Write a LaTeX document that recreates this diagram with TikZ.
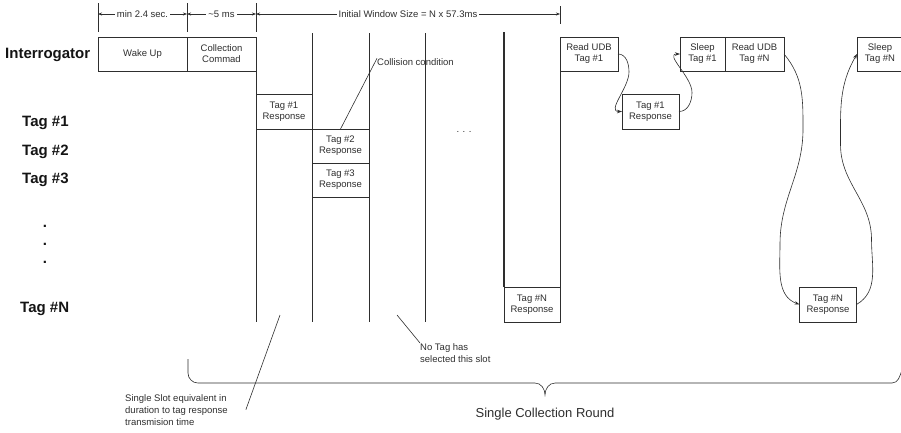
\documentclass[tikz,border=0pt]{standalone}
\usepackage{fontspec}
\setmainfont{Liberation Sans}
\usetikzlibrary{arrows.meta, positioning}
\definecolor{Ink}{HTML}{2E2E2E}
\definecolor{Label}{HTML}{141414}
\newcommand{\boxfont}{\fontsize{9.5}{11}\selectfont}
\newcommand{\lanefont}{\fontsize{15}{18}\selectfont\bfseries}
\newcommand{\notefont}{\fontsize{9.5}{12}\selectfont}
\newcommand{\roundfont}{\fontsize{13}{15}\selectfont}

\begin{document}
\begin{tikzpicture}[x=1pt, y=1pt,
    every node/.style={font=\boxfont, text=Ink},
    box/.style={draw=Ink, line width=0.6pt, inner sep=0pt, outer sep=0pt,
        align=center, minimum height=34},
    lane/.style={font=\lanefont, text=Label, anchor=west, inner sep=0pt},
    note/.style={font=\notefont, align=left, inner sep=0pt},
    slot/.style={draw=Ink, line width=0.6pt},
    dimarr/.style={{Stealth[length=4pt, width=3pt]}-{Stealth[length=4pt, width=3pt]},
        line width=0.5pt, Ink},
    arr/.style={-{Stealth[length=5pt, width=3.5pt]}, line width=0.6pt, Ink},
]
\useasboundingbox (0,0) rectangle (901,-432);

% =============================================
% TIME SCALE
% =============================================
\foreach \x in {98,187,256} \draw[Ink, line width=0.5pt] (\x,-3) -- (\x,-32);
\draw[Ink, line width=0.5pt] (560,-6) -- (560,-24);

\coordinate (t0) at (98,-14);
\coordinate (t1) at (187,-14);
\coordinate (t2) at (256,-14);
\coordinate (t3) at (560,-14);

\draw[dimarr] (t0) -- (t1) node[midway, fill=white, inner sep=2pt, font=\notefont] {min 2.4 sec.};
\draw[dimarr] (t1) -- (t2) node[midway, fill=white, inner sep=2pt, font=\notefont] {{\textasciitilde}5 ms};
\draw[dimarr] (t2) -- (t3) node[midway, fill=white, inner sep=2pt, font=\notefont]
    {Initial Window Size = N x 57.3ms};

% =============================================
% LANES
% =============================================
\node[lane] (intlab) at (5,-55) {Interrogator};
\node[lane] (tag1lab) at (22,-123) {Tag \#1};
\node[lane] (tag2lab) at (22,-152) {Tag \#2};
\node[lane] (tag3lab) at (22,-180) {Tag \#3};
\foreach \y in {226,244,262} \node[font=\lanefont, text=Label] at (45,-\y) {.};
\node[lane] (tagNlab) at (20,-309) {Tag \#N};

% =============================================
% WAKE UP + COMMAND
% =============================================
\node[box, minimum width=89] (wake) at (142.5,-54) {Wake Up};
\node[box, minimum width=69, right=0pt of wake] (cmd) {Collection\\Commad};

% =============================================
% SLOTS
% =============================================
\draw[slot] (cmd.north east) -- (256,-322);
\foreach \x in {312,369,425} \draw[slot] (\x,-33) -- (\x,-322);

\node[box, minimum width=56, minimum height=35] (r1a) at (284,-111.5) {Tag \#1\\Response};
\node[box, minimum width=57] (r2) at (340.5,-146) {Tag \#2\\Response};
\node[box, minimum width=57, below=0pt of r2] (r3) {Tag \#3\\Response};

% collision
\node[note, anchor=west] (collnote) at (377,-62) {Collision condition};
\draw[slot] (r2.north) -- (collnote.north west);

\node (moredots) at (464,-132) {. . .};

% last slot
\node[box, minimum width=56, minimum height=35] (rNa) at (532,-304.5) {Tag \#N\\Response};
\draw[Ink, line width=1.6pt] (504,-32) -- (rNa.north west);

% =============================================
% READ / SLEEP
% =============================================
\node[box, minimum width=58] (rd1) at (589,-54) {Read UDB\\Tag \#1};
\draw[slot] (rd1.south west) -- (rNa.north east);
\node[box, minimum width=57, minimum height=35] (r1b) at (650.5,-111.5) {Tag \#1\\Response};
\node[box, minimum width=45] (sl1) at (702.5,-54) {Sleep\\Tag \#1};
\node[box, minimum width=59, right=0pt of sl1] (rdN) {Read UDB\\Tag \#N};
\node[box, minimum width=57, minimum height=35] (rNb) at (828,-304.5) {Tag \#N\\Response};
\node[box, minimum width=46, anchor=west] (slN) at (857,-54) {Sleep\\Tag \#N};

\draw[arr] (rd1.east) to[out=0, in=90] ++(11,-18) to[out=-90, in=180] (r1b.west);
\draw[arr] (r1b.east) to[out=0, in=-90] ++(13,19) to[out=90, in=180] (sl1.west);

\draw[arr] (rdN.east) to[out=-50, in=90] ++(19,-75) to[out=-90, in=90] ++(-23,-115)
    to[out=-90, in=160] (rNb.west);
\draw[arr] (rNb.east) to[out=30, in=-90] ++(15,65) to[out=90, in=-90] ++(-31,95)
    to[out=90, in=-120] (slN.west);

% =============================================
% NOTES + ROUND BRACE
% =============================================
\coordinate (emptypt) at (397,-315);
\node[note, anchor=north west] (emptynote) at (420,-343) {No Tag has\\selected this slot};
\draw[slot] (emptypt) -- (emptynote.north west);

\coordinate (slotpt) at (280,-315);
\node[note, anchor=north west] (slotnote) at (125,-394)
    {Single Slot equivalent in\\duration to tag response\\transmision time};
\draw[slot] (slotpt) -- ([xshift=18pt]slotnote.east);

\draw[Ink, line width=0.6pt] (188,-359) -- (188,-373) to[out=-90, in=180] (198,-383)
    -- (535,-383) to[out=0, in=90] (545,-395) to[out=90, in=180] (555,-383)
    -- (892,-383) to[out=0, in=-110] (902,-370);
\node[font=\roundfont] (roundlab) at (545,-414) {Single Collection Round};

\end{tikzpicture}
\end{document}
